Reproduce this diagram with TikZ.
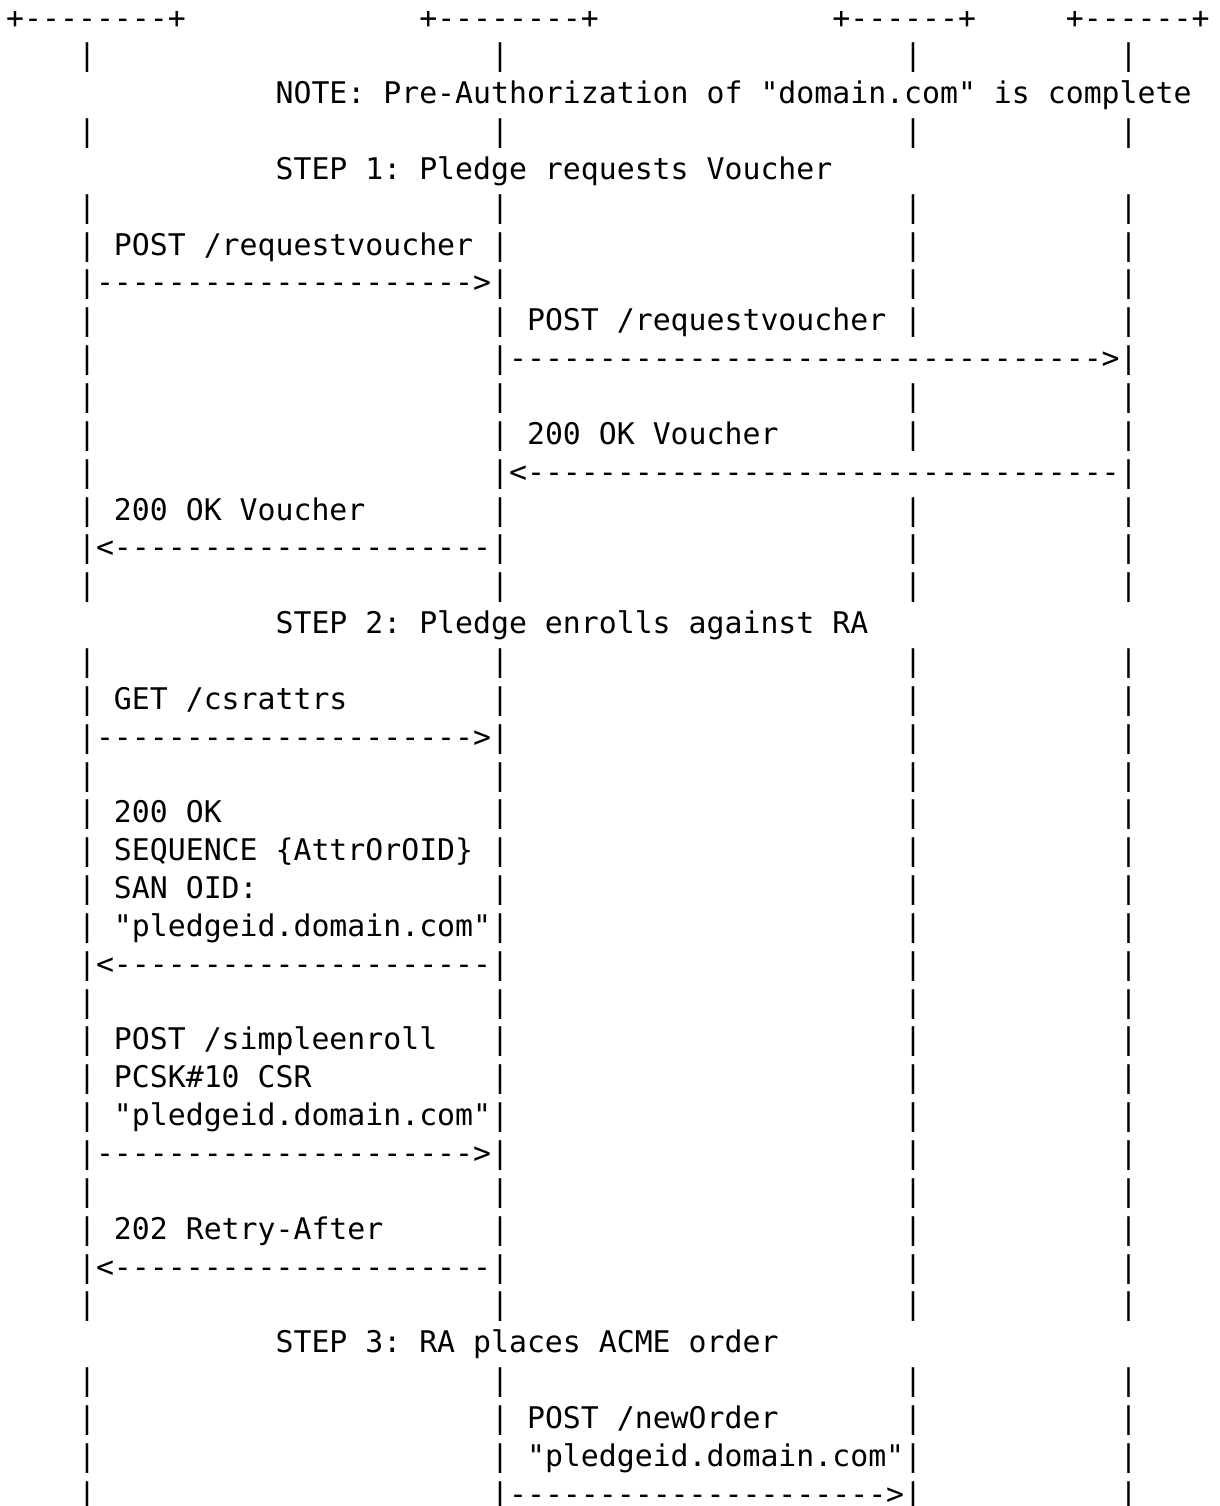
\documentclass[tikz,border=0pt]{standalone}
\usepackage{fontspec}
\setmonofont{DejaVu Sans Mono}
\tikzset{every picture/.style={/utils/exec={\ttfamily}}}
\newcommand{\dashes}[1]{\foreach \i in {1,...,#1}{-}}
\tikzset{
  ascii/.style={font=\ttfamily\fontsize{14.916pt}{18pt}\selectfont\frenchspacing,
    inner sep=0pt, outer sep=0pt, anchor=base west},
}

\begin{document}
\begin{tikzpicture}[x=8.98pt, y=-18.925pt]
  \useasboundingbox (-0.346,-0.74) rectangle (67.583,39.049);

  % bottom edges of the four boxes
  \node [ascii] (pledgebox) at (0,0) {+--------+};
  \node [ascii] (rabox) at (23,0) {+--------+};
  \node [ascii] (acmebox) at (46,0) {+------+};
  \node [ascii] (masabox) at (59,0) {+------+};

  % lifelines
  \foreach \r in {1,3,5,6,8,10,11,13,15,17,18,20,21,22,23,24,26,27,28,29,31,32,34,36,37,38}
    \foreach \c in {4,27,50,62}
      \node [ascii] (life-\c-\r) at (\c,\r) {|};
  \foreach \r in {7,14,19,25,30,33}
    \foreach \c in {50,62}
      \node [ascii] (life-\c-\r) at (\c,\r) {|};
  \foreach \r in {9,12,39}
    \node [ascii] (life-4-\r) at (4,\r) {|};
  \node [ascii] (life-62-39) at (62,39) {|};

  % notes and steps
  \node [ascii] (note) at (15,2) {NOTE: Pre-Authorization of "domain.com" is complete};
  \node [ascii] (step1) at (15,4) {STEP 1: Pledge requests Voucher};
  \node [ascii] (step2) at (15,16) {STEP 2: Pledge enrolls against RA};
  \node [ascii] (step3) at (15,35) {STEP 3: RA places ACME order};

  % step 1
  \node [ascii] (reqvoucher) at (6,6) {POST /requestvoucher};
  \node [ascii] (reqvoucherarr) at (4,7) {|\dashes{21}>|};
  \node [ascii] (fwdvoucher) at (29,8) {POST /requestvoucher};
  \node [ascii] (fwdvoucherarr) at (27,9) {|\dashes{33}>|};
  \node [ascii] (masaok) at (29,11) {200 OK Voucher};
  \node [ascii] (masaokarr) at (27,12) {|<\dashes{33}|};
  \node [ascii] (raok) at (6,13) {200 OK Voucher};
  \node [ascii] (raokarr) at (4,14) {|<\dashes{21}|};

  % step 2
  \node [ascii] (csrattrs) at (6,18) {GET /csrattrs};
  \node [ascii] (csrattrsarr) at (4,19) {|\dashes{21}>|};
  \node [ascii] (attrok) at (6,21) {200 OK};
  \node [ascii] (attrseq) at (6,22) {SEQUENCE \{AttrOrOID\}};
  \node [ascii] (attrsan) at (6,23) {SAN OID:};
  \node [ascii] (attrid) at (6,24) {"pledgeid.domain.com"};
  \node [ascii] (attrokarr) at (4,25) {|<\dashes{21}|};
  \node [ascii] (enroll) at (6,27) {POST /simpleenroll};
  \node [ascii] (enrollcsr) at (6,28) {PCSK\#10 CSR};
  \node [ascii] (enrollid) at (6,29) {"pledgeid.domain.com"};
  \node [ascii] (enrollarr) at (4,30) {|\dashes{21}>|};
  \node [ascii] (retry) at (6,32) {202 Retry-After};
  \node [ascii] (retryarr) at (4,33) {|<\dashes{21}|};

  % step 3
  \node [ascii] (neworder) at (29,37) {POST /newOrder};
  \node [ascii] (neworderid) at (29,38) {"pledgeid.domain.com"};
  \node [ascii] (neworderarr) at (27,39) {|\dashes{21}>|};
\end{tikzpicture}
\end{document}
